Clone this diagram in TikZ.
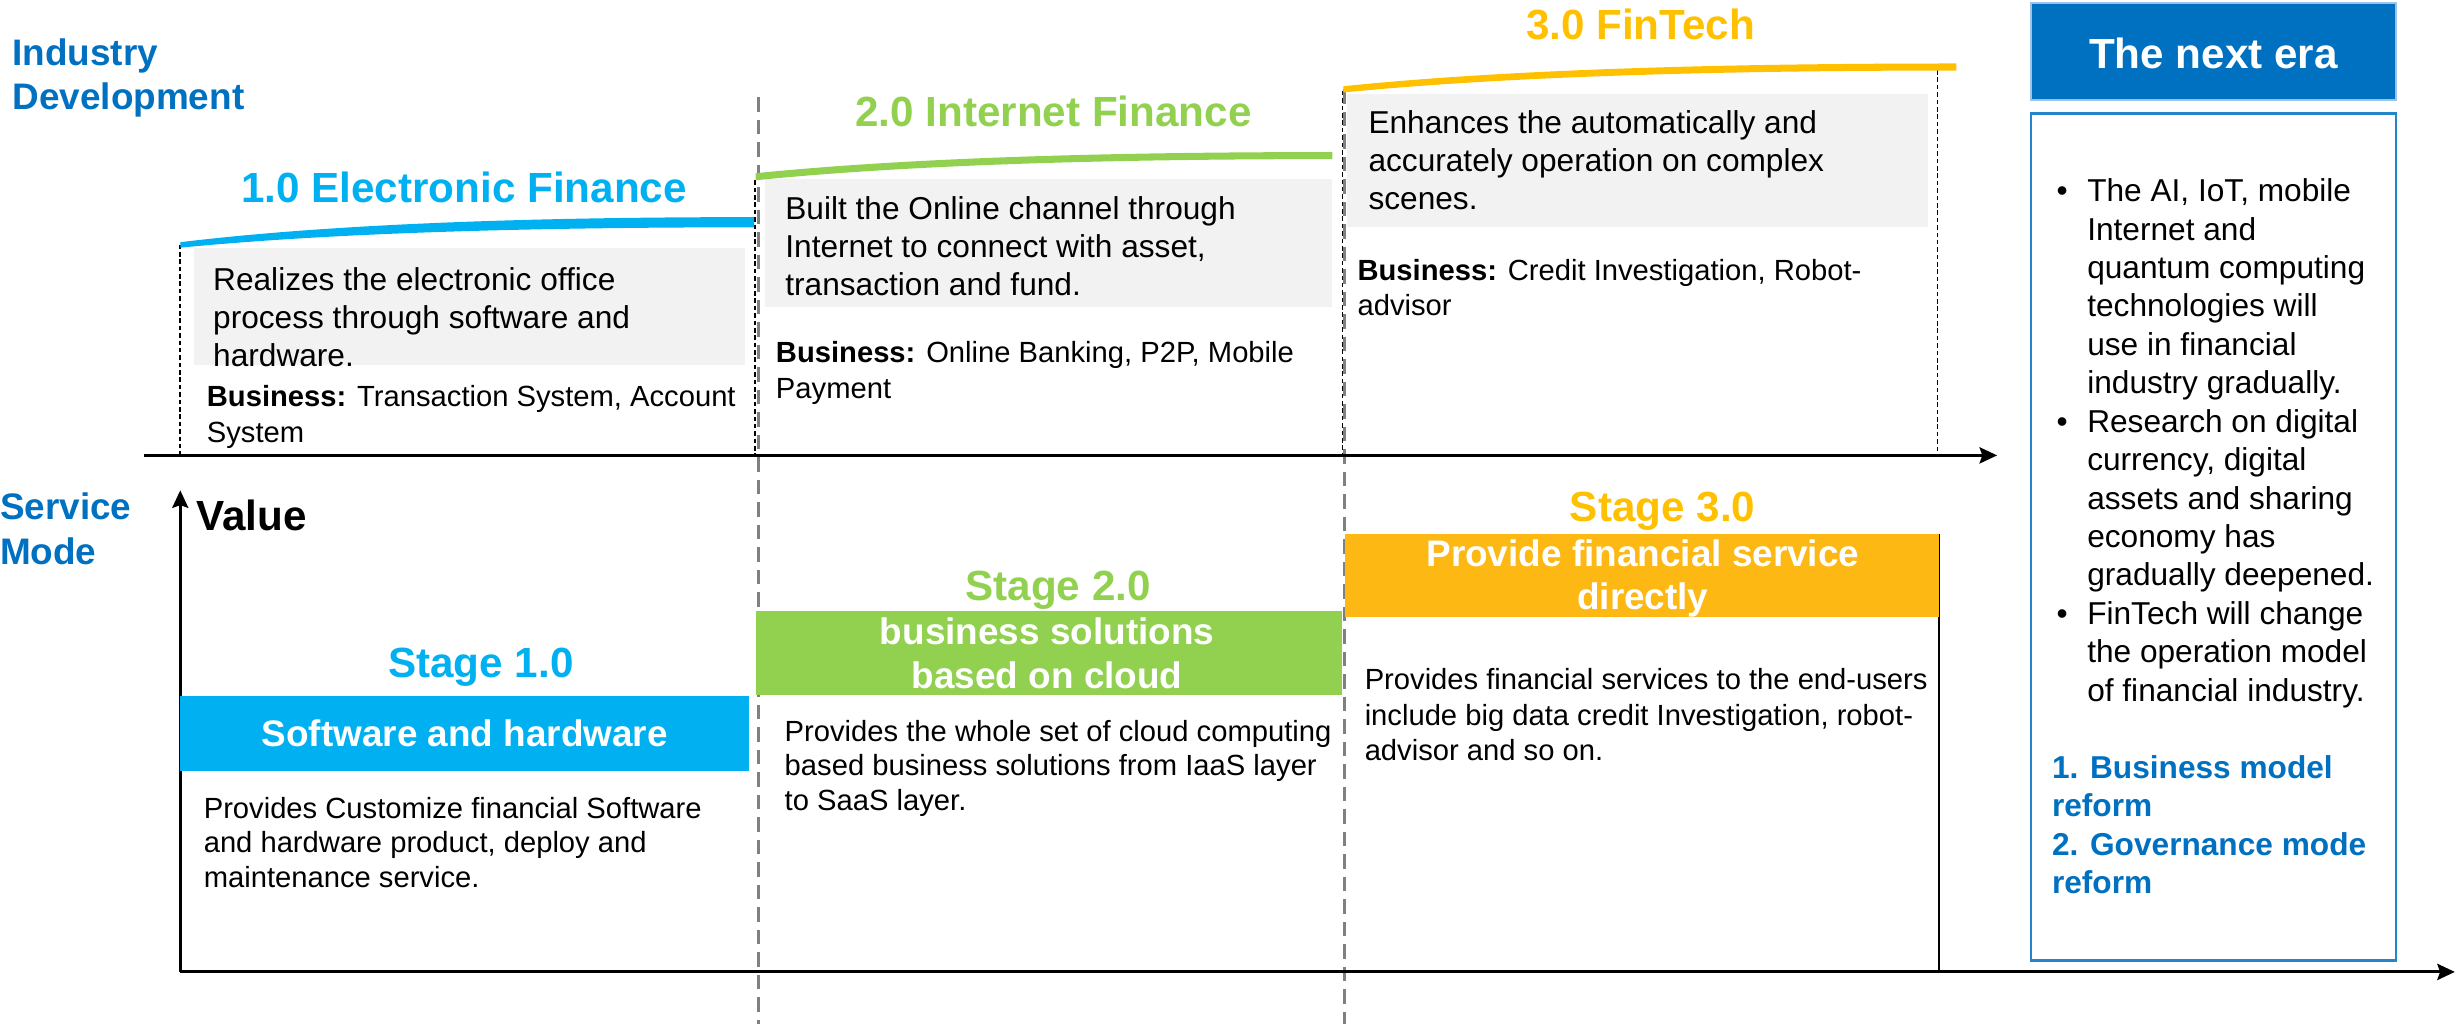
\documentclass[tikz,border=0pt]{standalone}
\usepackage{fontspec}
\setmainfont{Liberation Sans}
\usetikzlibrary{arrows.meta}

\definecolor{darkblue}{HTML}{0070C0}
\definecolor{stagecyan}{HTML}{00B0F0}
\definecolor{stagegreen}{HTML}{92D050}
\definecolor{stageorange}{HTML}{FFC000}
\definecolor{barorange}{HTML}{FDB813}
\definecolor{panegray}{HTML}{F2F2F2}
\definecolor{headedge}{HTML}{9DC3E6}

\begin{document}
\begin{tikzpicture}[x=0.015676cm, y=-0.015676cm,
    >={Stealth[length=5pt,width=4.6pt,inset=0.8pt]},
    every node/.style={inner sep=0, outer sep=0},
    eratitle/.style={font=\bfseries\fontsize{12}{14}\selectfont, anchor=base},
    sidehead/.style={font=\bfseries\fontsize{10.5}{12.7}\selectfont, text=darkblue, align=left, anchor=north west},
    panetext/.style={font=\fontsize{9}{10.8}\selectfont, align=left, anchor=north west},
    biztext/.style={font=\fontsize{8.3}{10}\selectfont, align=left, anchor=north west},
    offertext/.style={font=\fontsize{8.3}{9.8}\selectfont, align=left, anchor=north west},
    barlabel/.style={font=\bfseries\fontsize{10.5}{12.5}\selectfont, text=white, align=center},
    nexttext/.style={font=\fontsize{9}{10.9}\selectfont, align=left, anchor=north west},
    period/.style={gray, line width=0.85pt, dash pattern=on 4.1pt off 2.3pt},
    guide/.style={black, line width=0.45pt, dash pattern=on 1.3pt off 0.8pt},
    timeaxis/.style={black, line width=0.85pt, ->}]

  \useasboundingbox (0,0) rectangle (1568,653);

  % grey backgrounds behind the era descriptions
  \fill[panegray] (124,158) rectangle (475,233);
  \fill[panegray] (488,114) rectangle (850,196);
  \fill[panegray] (859,60) rectangle (1230,145);

  % period separators
  \coordinate (sep2 top) at (484,62);   \coordinate (sep2 bot) at (484,653);
  \coordinate (sep3 top) at (857.5,57); \coordinate (sep3 bot) at (857.5,653);
  \draw[period] (sep2 top) -- (sep2 bot);
  \draw[period] (sep3 top) -- (sep3 bot);

  % guides from the growth curves down to the time axis
  \coordinate (g1 top) at (115,156);   \coordinate (g1 bot) at (115,290.5);
  \coordinate (g2 top) at (481.5,115); \coordinate (g2 bot) at (481.5,290.5);
  \coordinate (g3 top) at (856.5,58);  \coordinate (g3 bot) at (856.5,290.5);
  \coordinate (g4 top) at (1236,44.7); \coordinate (g4 bot) at (1236,290.5);
  \draw[guide] (g1 top) -- (g1 bot);
  \draw[guide] (g2 top) -- (g2 bot);
  \draw[guide] (g3 top) -- (g3 bot);
  \draw[guide] (g4 top) -- (g4 bot);

  % growth curves
  \fill[stagecyan] (115,158) .. controls (188,150.9) and (298,145) .. (481,145)
    -- (481,138.5) .. controls (298,138.5) and (188,145.7) .. (115,154.5) -- cycle;
  \fill[stagegreen] (482,115) .. controls (555.6,107.6) and (666,101.5) .. (850,101.5)
    -- (850,97) .. controls (666,97) and (555.6,103.1) .. (482,110.5) -- cycle;
  \fill[stageorange] (857,59) .. controls (935,51.3) and (1052.5,45) .. (1248,45)
    -- (1248,40.5) .. controls (1052.5,40.5) and (935,47) .. (857,55) -- cycle;

  % axes
  \coordinate (top start) at (92,290.5);  \coordinate (top end) at (1274,290.5);
  \coordinate (origin) at (115,620);
  \coordinate (value end) at (115,312.8); \coordinate (time end) at (1566,620);
  \coordinate (edge top) at (1237,340.8); \coordinate (edge bot) at (1237,620);
  \draw[timeaxis] (top start) -- (top end);
  \draw[timeaxis] (origin) -- (time end);
  \draw[timeaxis, line width=0.7pt] (origin) -- (value end);
  \draw[line width=0.7pt] (edge top) -- (edge bot);

  \node[sidehead] (industry) at (8,24.6) {Industry\\Development};
  \node[sidehead] (service) at (0,314.6) {Service\\Mode};

  % industry eras
  \node[eratitle, text=stagecyan] (era1) at (296,129) {1.0 Electronic Finance};
  \node[eratitle, text=stagegreen] (era2) at (672,81) {2.0 Internet Finance};
  \node[eratitle, text=stageorange] (era3) at (1046.5,25) {3.0 FinTech};

  \node[panetext] (desc1) at (136,170.5) {Realizes the electronic office\\process through software and\\hardware.};
  \node[panetext] (desc2) at (501,125.5) {Built the Online channel through\\Internet to connect with asset,\\transaction and fund.};
  \node[panetext] (desc3) at (873,70.5) {Enhances the automatically and\\accurately operation on complex\\scenes.};

  \node[biztext] (biz1) at (132,246.1) {\textbf{Business:} Transaction System, Account\\System};
  \node[biztext] (biz2) at (495,218) {\textbf{Business:} Online Banking, P2P, Mobile\\Payment};
  \node[biztext] (biz3) at (866,165.6) {\textbf{Business:} Credit Investigation, Robot-\\advisor};

  % service stages
  \node[font=\bfseries\fontsize{12}{14}\selectfont, anchor=base west] (value) at (125.3,338.5) {Value};

  \fill[stagecyan] (115,444) rectangle (478,492);
  \fill[stagegreen] (482,390) rectangle (856,443.6);
  \fill[barorange] (858,340.8) rectangle (1237,393.4);

  \node[eratitle, text=stagecyan] (stage1) at (306.8,432) {Stage 1.0};
  \node[eratitle, text=stagegreen] (stage2) at (675,383) {Stage 2.0};
  \node[eratitle, text=stageorange] (stage3) at (1060.6,332.6) {Stage 3.0};

  \node[barlabel, anchor=base] (bar1) at (296.5,476) {Software and hardware};
  \node[barlabel, anchor=north] (bar2) at (668,394) {business solutions\\based on cloud};
  \node[barlabel, anchor=north, font=\bfseries\fontsize{10.5}{12.1}\selectfont] (bar3) at (1048,344.5) {Provide financial service\\directly};

  \node[offertext] (offer1) at (130,508.6) {Provides Customize financial Software\\and hardware product, deploy and\\maintenance service.};
  \node[offertext] (offer2) at (500.6,459.3) {Provides the whole set of cloud computing\\based business solutions from IaaS layer\\to SaaS layer.};
  \node[offertext, font=\fontsize{8.3}{10}\selectfont] (offer3) at (870.6,426.6) {Provides financial services to the end-users\\include big data credit Investigation, robot-\\advisor and so on.};

  % the next era
  \fill[darkblue] (1295.6,1.7) rectangle (1528.5,63.8);
  \draw[headedge, line width=0.6pt] (1295.6,1.7) rectangle (1528.5,63.8);
  \draw[darkblue!85, line width=0.7pt] (1295.6,72.3) rectangle (1528.5,612.8);
  \node[font=\bfseries\fontsize{12}{14}\selectfont, text=white, anchor=base] (nextera) at (1412,43.6) {The next era};

  \node[anchor=base west, font=\fontsize{9}{10.9}\selectfont] (dot1) at (1312,128.7) {\textbullet};
  \node[anchor=base west, font=\fontsize{9}{10.9}\selectfont] (dot2) at (1312,275.7) {\textbullet};
  \node[anchor=base west, font=\fontsize{9}{10.9}\selectfont] (dot3) at (1312,398.2) {\textbullet};
  \node[nexttext] (trend1) at (1331.5,114.2) {The AI, IoT, mobile\\Internet and\\quantum computing\\technologies will\\use in financial\\industry gradually.};
  \node[nexttext] (trend2) at (1331.5,261.2) {Research on digital\\currency, digital\\assets and sharing\\economy has\\gradually deepened.};
  \node[nexttext] (trend3) at (1331.5,383.7) {FinTech will change\\the operation model\\of financial industry.};
  \node[nexttext, font=\bfseries\fontsize{9}{10.9}\selectfont, text=darkblue] (reform) at (1309,482) {1. Business model\\reform\\2. Governance mode\\reform};
\end{tikzpicture}
\end{document}
